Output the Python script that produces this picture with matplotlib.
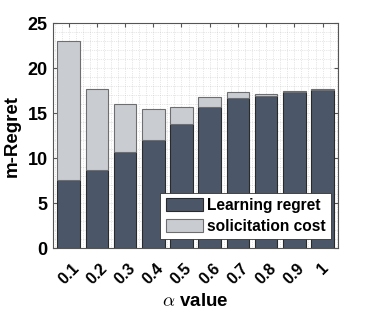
import matplotlib
matplotlib.use("Agg")
import matplotlib.pyplot as plt
import numpy as np
from matplotlib.ticker import MultipleLocator

plt.rcParams["font.family"] = ["Liberation Sans", "DejaVu Sans"]
plt.rcParams["mathtext.fontset"] = "cm"

alpha_labels = ["0.1", "0.2", "0.3", "0.4", "0.5", "0.6", "0.7", "0.8", "0.9", "1"]
learning_regret = [7.6, 8.7, 10.7, 12.0, 13.8, 15.7, 16.7, 16.9, 17.3, 17.6]
total_regret = [23.0, 17.7, 16.0, 15.4, 15.7, 16.8, 17.3, 17.15, 17.5, 17.7]
solicitation_cost = [t - l for t, l in zip(total_regret, learning_regret)]

dark = "#4b5769"
light = "#c9cdd1"

fig = plt.figure(figsize=(3.74, 3.12), dpi=100)
ax = fig.add_axes([0.142, 0.205, 0.762, 0.721])

x = np.arange(1, len(alpha_labels) + 1)
ax.bar(x, learning_regret, width=0.8, color=dark, edgecolor="#2a2a2a",
       linewidth=0.8, label="Learning regret", zorder=2)
ax.bar(x, solicitation_cost, width=0.8, bottom=learning_regret, color=light,
       edgecolor="#6e6e6e", linewidth=0.8, label="solicitation cost", zorder=2)

ax.set_xlim(0.45, 10.55)
ax.set_ylim(0, 25)
ax.set_xticks(x)
ax.set_xticklabels(alpha_labels, rotation=45, fontweight="bold", fontsize=11.5,
                   ha="center", va="top")
ax.set_yticks([0, 5, 10, 15, 20, 25])
ax.set_yticklabels(["0", "5", "10", "15", "20", "25"], fontweight="bold", fontsize=13)
ax.yaxis.set_minor_locator(MultipleLocator(1))
ax.xaxis.set_minor_locator(MultipleLocator(0.25))
ax.tick_params(which="both", direction="in", top=True, right=True, length=3,
               color="#555555")
ax.tick_params(which="minor", length=0)
ax.tick_params(axis="x", pad=9)
ax.tick_params(axis="y", pad=4)
ax.grid(which="both", linestyle=":", linewidth=0.5, color="#b0b0b0",
        alpha=0.6, zorder=3)
for spine in ax.spines.values():
    spine.set_color("#555555")
    spine.set_linewidth(0.8)
    spine.set_zorder(4)

ax.set_ylabel("m-Regret", fontweight="bold", fontsize=13.5, labelpad=5)
ax.set_xlabel(r"$\alpha$ value", fontweight="bold", fontsize=13.5, labelpad=4)

leg = ax.legend(loc="lower right", bbox_to_anchor=(0.975, 0.04), fancybox=False,
                edgecolor="#333333", framealpha=1,
                prop={"weight": "bold", "size": 11.2},
                handlelength=2.4, handleheight=0.9, borderpad=0.35,
                labelspacing=0.35, handletextpad=0.25, borderaxespad=0.0)
leg.get_frame().set_linewidth(0.6)
leg.set_zorder(5)

fig.savefig("out.png", dpi=100)
